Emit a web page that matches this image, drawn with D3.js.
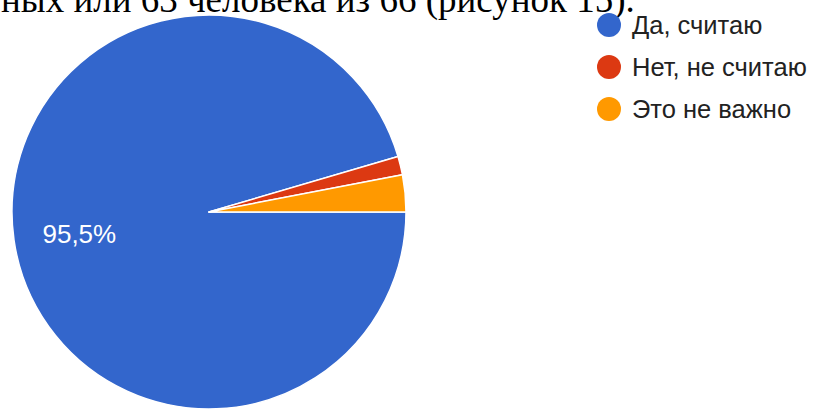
<!DOCTYPE html>
<html>
<head>
<meta charset="utf-8">
<script src="https://cdn.jsdelivr.net/npm/d3@7"></script>
<style>
  html, body { margin: 0; padding: 0; background: #fff; }
  svg { display: block; }
</style>
</head>
<body>
<svg id="chart" width="818" height="409"></svg>
<script>
// Survey answers: 66 respondents
const categories = ["Да, считаю", "Нет, не считаю", "Это не важно"];
const counts = [63, 1, 2];
const colors = ["#3366cc", "#dc3912", "#ff9900"];
const captionText = "ных или 63 человека из 66 (рисунок 15).";

const svg = d3.select("#chart");

// Caption line from the surrounding document (partly cut off at the top)
svg.append("text")
  .attr("x", 1)
  .attr("y", 12)
  .attr("font-family", "'Liberation Serif', 'Times New Roman', serif")
  .attr("font-size", 37)
  .attr("fill", "#000")
  .text(captionText);

const cx = 209, cy = 212, r = 197;
const total = d3.sum(counts);

// Slices start at 3 o'clock and run clockwise
const pie = d3.pie()
  .sort(null)
  .value(d => d)
  .startAngle(Math.PI / 2)
  .endAngle(Math.PI / 2 + 2 * Math.PI);

const arc = d3.arc().innerRadius(0).outerRadius(r);
const arcs = pie(counts);

const g = svg.append("g").attr("transform", `translate(${cx},${cy})`);

g.selectAll("path")
  .data(arcs)
  .join("path")
  .attr("d", arc)
  .attr("fill", (d, i) => colors[i])
  .attr("stroke", "#fff")
  .attr("stroke-width", 1.5)
  .attr("stroke-linejoin", "round");

// Percentage label on the large slice only
const fmt = v => (v * 100).toFixed(1).replace(".", ",") + "%";
arcs.forEach((d, i) => {
  const share = counts[i] / total;
  if (share < 0.05) return;
  const mid = d.startAngle + (d.endAngle - d.startAngle) / 2;
  const k = r * 0.665;
  g.append("text")
    .attr("x", Math.sin(mid) * k)
    .attr("y", -Math.cos(mid) * k + 3)
    .attr("text-anchor", "middle")
    .attr("dominant-baseline", "central")
    .attr("font-family", "'Liberation Sans', Arial, sans-serif")
    .attr("font-size", 26)
    .attr("fill", "#fff")
    .text(fmt(share));
});

// Legend
const legend = svg.append("g").attr("transform", "translate(609,25)");
const rows = legend.selectAll("g")
  .data(categories)
  .join("g")
  .attr("transform", (d, i) => `translate(0,${i * 42})`);

rows.append("circle")
  .attr("r", 12)
  .attr("fill", (d, i) => colors[i]);

rows.append("text")
  .attr("x", 23)
  .attr("y", 0)
  .attr("dominant-baseline", "central")
  .attr("font-family", "'Liberation Sans', Arial, sans-serif")
  .attr("font-size", 25.5)
  .attr("fill", "#222")
  .text(d => d);
</script>
</body>
</html>
